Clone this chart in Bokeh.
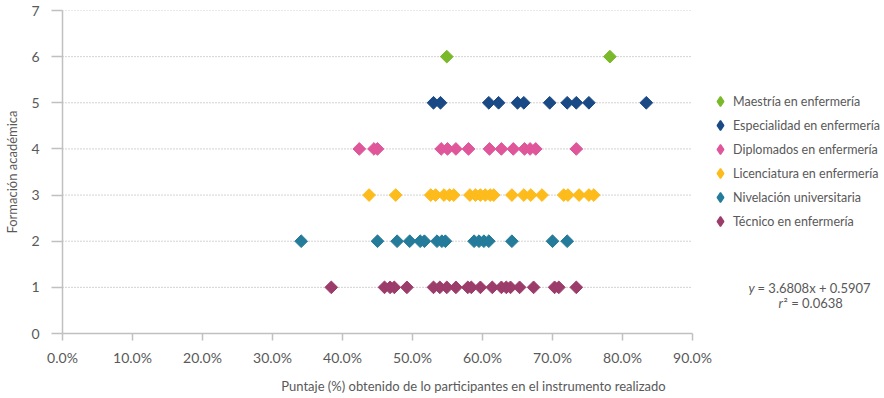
import numpy as np
from bokeh.plotting import figure
from bokeh.models import (ColumnDataSource, Legend, LegendItem, NumeralTickFormatter,
                          FixedTicker, Label, Range1d)
from bokeh.embed import file_html
from bokeh.resources import INLINE

# ---------------- data ----------------
series_names = ["Maestría en enfermería", "Especialidad en enfermería", "Diplomados en enfermería",
                "Licenciatura en enfermería", "Nivelación universitaria", "Técnico en enfermería"]
series_levels = [6, 5, 4, 3, 2, 1]
series_colors = ["#7ab929", "#1a4a85", "#e0569b", "#fdbb1c", "#257b9a", "#9c3c6a"]

maestria = [0.549, 0.782]
especialidad = [0.530, 0.540, 0.609, 0.623, 0.650, 0.659, 0.696, 0.721, 0.734, 0.752, 0.834]
diplomados = [0.424, 0.445, 0.450, 0.541, 0.550, 0.562, 0.580, 0.610, 0.627, 0.644, 0.660,
              0.668, 0.676, 0.734]
licenciatura = [0.438, 0.476, 0.526, 0.533, 0.545, 0.553, 0.559, 0.582, 0.590, 0.597, 0.604,
                0.611, 0.616, 0.642, 0.659, 0.669, 0.685, 0.716, 0.722, 0.738, 0.752, 0.759]
nivelacion = [0.341, 0.450, 0.478, 0.496, 0.511, 0.517, 0.535, 0.542, 0.547, 0.588, 0.595,
              0.602, 0.609, 0.642, 0.700, 0.721]
tecnico = [0.384, 0.460, 0.468, 0.474, 0.492, 0.530, 0.539, 0.549, 0.562, 0.579, 0.584, 0.597,
           0.614, 0.627, 0.634, 0.640, 0.653, 0.673, 0.703, 0.709, 0.734]
series_values = [maestria, especialidad, diplomados, licenciatura, nivelacion, tecnico]

x_ticks = [0.0, 0.1, 0.2, 0.3, 0.4, 0.5, 0.6, 0.7, 0.8, 0.9]
y_ticks = [0, 1, 2, 3, 4, 5, 6, 7]
equation_text = "= 3.6808x + 0.5907"
r2_text = "² = 0.0638"

FONT = "Lato"
TXT = "#595959"

# layout: the data area (0..90%) is 630 px wide starting at x=62; the frame is
# extended to the right edge so that the legend can sit inside it.
W, H = 884, 398
LEFT, DATA_W = 62, 630
x_end = x_ticks[-1] * (W - LEFT) / DATA_W

p = figure(width=W, height=H, output_backend="svg", toolbar_location=None,
           x_range=Range1d(0, x_end), y_range=Range1d(0, y_ticks[-1]),
           min_border_left=LEFT, min_border_right=0, min_border_top=10, min_border_bottom=65)
p.outline_line_color = None
p.background_fill_color = "white"
p.border_fill_color = "white"

p.xgrid.visible = False
p.ygrid.visible = False

# dotted horizontal gridlines limited to the 0-90% data area
grid_xs = [[x_ticks[0], x_ticks[-1]] for t in y_ticks[1:]]
grid_ys = [[t, t] for t in y_ticks[1:]]
p.multi_line(grid_xs, grid_ys, line_color="#a6a6a6", line_width=1, line_dash="1 2")

p.xaxis.ticker = FixedTicker(ticks=x_ticks)
p.yaxis.ticker = FixedTicker(ticks=y_ticks)
p.xaxis.formatter = NumeralTickFormatter(format="0.0%")
p.xaxis.bounds = (x_ticks[0], x_ticks[-1])

for ax in (p.xaxis, p.yaxis):
    ax.axis_line_color = "#c0c0c0"
    ax.axis_line_width = 1.5
    ax.major_tick_line_color = "#c0c0c0"
    ax.major_tick_line_width = 1.5
    ax.major_tick_in = 0
    ax.minor_tick_line_color = None
    ax.major_label_text_font = FONT
    ax.major_label_text_font_size = "14px"
    ax.major_label_text_color = TXT
    ax.axis_label_text_font = FONT
    ax.axis_label_text_font_size = "13px"
    ax.axis_label_text_font_style = "normal"
    ax.axis_label_text_color = TXT

p.xaxis.major_tick_out = 7
p.xaxis.major_label_standoff = 8
p.xaxis.axis_label = "Puntaje (%) obtenido de lo participantes en el instrumento realizado"
p.xaxis.axis_label_standoff = 9
p.yaxis.major_tick_out = 11
p.yaxis.major_label_standoff = 12
p.yaxis.axis_label = "Formación académica"
p.yaxis.axis_label_standoff = 8

nan = float("nan")
items = []
for name, lvl, col, vals in zip(series_names, series_levels, series_colors, series_values):
    src = ColumnDataSource(dict(x=vals, y=[lvl] * len(vals)))
    p.scatter("x", "y", source=src, marker="square", size=9, angle=np.pi / 4,
              fill_color=col, line_color=col)
    # legend key (diamond) – renderer with no drawable point, used only by the legend
    key = p.scatter(x=[nan], y=[nan], marker="diamond", size=10, fill_color=col,
                    line_color=col, line_width=1.5)
    items.append(LegendItem(label=name, renderers=[key]))

legend = Legend(items=items, location=(646, 100), orientation="vertical",
                padding=0, margin=0, spacing=0, glyph_width=24, glyph_height=24,
                label_height=16, label_standoff=1, border_line_color=None,
                background_fill_alpha=0, label_text_font=FONT,
                label_text_font_size="12.5px", label_text_color=TXT)
p.add_layout(legend, "center")

# Label screen coordinates are relative to the plot frame (x from left, y from bottom)
p.add_layout(Label(x=686, y=46, x_units="screen", y_units="screen", text="y",
                   text_font=FONT, text_font_style="italic", text_font_size="13px",
                   text_color=TXT, text_align="left", text_baseline="middle"))
p.add_layout(Label(x=695, y=46, x_units="screen", y_units="screen", text=equation_text,
                   text_font=FONT, text_font_size="13px",
                   text_color=TXT, text_align="left", text_baseline="middle"))
p.add_layout(Label(x=716, y=31, x_units="screen", y_units="screen", text="r",
                   text_font=FONT, text_font_style="italic", text_font_size="13px",
                   text_color=TXT, text_align="left", text_baseline="middle"))
p.add_layout(Label(x=721, y=31, x_units="screen", y_units="screen", text=r2_text,
                   text_font=FONT, text_font_size="13px",
                   text_color=TXT, text_align="left", text_baseline="middle"))

open("out.html", "w").write(file_html(p, INLINE))
